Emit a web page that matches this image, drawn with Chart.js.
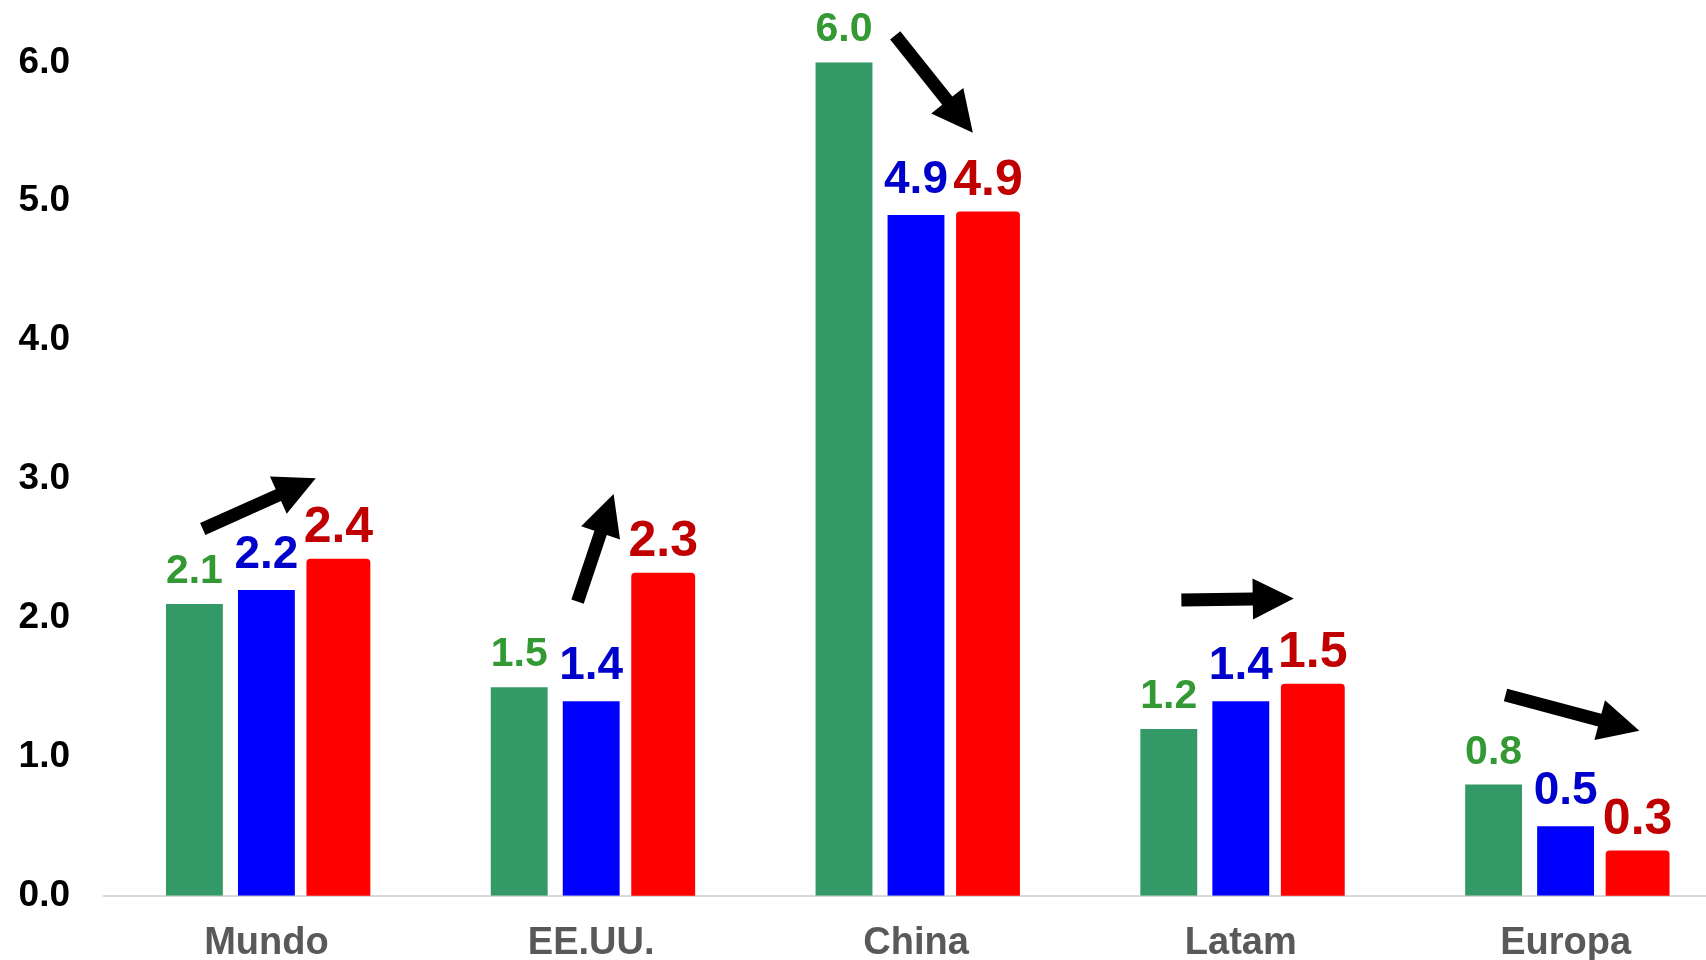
<!DOCTYPE html>
<html>
<head>
<meta charset="utf-8">
<script src="https://cdn.jsdelivr.net/npm/chart.js@4.4.1/dist/chart.umd.min.js"></script>
<style>
html,body{margin:0;padding:0;background:#fff;overflow:hidden;width:1706px;height:960px}
#wrap{position:absolute;left:0;top:0;width:1728px;height:960px}
</style>
</head>
<body>
<div id="wrap"><canvas id="c" width="1728" height="960"></canvas></div>
<script>
// ---- data ----
const categories = ['Mundo', 'EE.UU.', 'China', 'Latam', 'Europa'];
const seriesNames = ['Serie 1', 'Serie 2', 'Serie 3'];
const greenValues = [2.1, 1.5, 6.0, 1.2, 0.8];
const blueValues  = [2.2, 1.4, 4.9, 1.4, 0.5];
const redValues   = [2.4, 2.3, 4.9, 1.5, 0.3];
const yTickValues = [0, 1, 2, 3, 4, 5, 6];

// trend arrows, in category units (0 = Mundo) and value units
const arrowTailX = [-0.196, 0.958, 1.936, 2.817, 3.815];
const arrowTailY = [2.640, 2.117, 6.194, 2.129, 1.445];
const arrowTipX  = [0.152, 1.069, 2.175, 3.163, 4.227];
const arrowTipY  = [3.005, 2.892, 5.493, 2.140, 1.188];

// ---- styling ----
const FONT = '"Liberation Sans", Arial, Helvetica, sans-serif';
const barColors   = ['#339966', '#0000FF', '#FF0000'];
const labelColors = ['#339933', '#0000CC', '#C00000'];
const labelSizes  = [41, 46, 50];
const labelGaps   = [21, 22, 20];

const overlay = {
  id: 'overlay',
  afterDatasetsDraw(chart) {
    const ctx = chart.ctx;
    const xs = chart.scales.x, ys = chart.scales.y;
    ctx.save();
    // value labels
    ctx.textAlign = 'center';
    ctx.textBaseline = 'alphabetic';
    chart.data.datasets.forEach((ds, i) => {
      const meta = chart.getDatasetMeta(i);
      ctx.font = 'bold ' + labelSizes[i] + 'px ' + FONT;
      ctx.fillStyle = labelColors[i];
      meta.data.forEach((bar, j) => {
        ctx.fillText(ds.data[j].toFixed(1), bar.x, bar.y - labelGaps[i]);
      });
    });
    // arrows
    ctx.fillStyle = '#000';
    const shaftW = 13, headW = 41, headL = 41;
    for (let k = 0; k < arrowTailX.length; k++) {
      const tx = xs.getPixelForValue(arrowTailX[k]), ty = ys.getPixelForValue(arrowTailY[k]);
      const px = xs.getPixelForValue(arrowTipX[k]),  py = ys.getPixelForValue(arrowTipY[k]);
      const len = Math.hypot(px - tx, py - ty);
      const dx = (px - tx) / len, dy = (py - ty) / len;
      const nx = -dy, ny = dx;
      const bx = px - dx * headL, by = py - dy * headL;
      ctx.beginPath();
      ctx.moveTo(tx + nx * shaftW / 2, ty + ny * shaftW / 2);
      ctx.lineTo(bx + nx * shaftW / 2, by + ny * shaftW / 2);
      ctx.lineTo(bx + nx * headW / 2, by + ny * headW / 2);
      ctx.lineTo(px, py);
      ctx.lineTo(bx - nx * headW / 2, by - ny * headW / 2);
      ctx.lineTo(bx - nx * shaftW / 2, by - ny * shaftW / 2);
      ctx.lineTo(tx - nx * shaftW / 2, ty - ny * shaftW / 2);
      ctx.closePath();
      ctx.fill();
    }
    ctx.restore();
  }
};

new Chart(document.getElementById('c'), {
  type: 'bar',
  data: {
    labels: categories,
    datasets: [
      { label: seriesNames[0], data: greenValues, backgroundColor: barColors[0], inflateAmount: 0 },
      { label: seriesNames[1], data: blueValues,  backgroundColor: barColors[1], inflateAmount: 0 },
      { label: seriesNames[2], data: redValues,   backgroundColor: barColors[2], inflateAmount: 3.5,
        borderRadius: { topLeft: 4, topRight: 4, bottomLeft: 0, bottomRight: 0 }, borderSkipped: false }
    ]
  },
  options: {
    responsive: false,
    animation: false,
    categoryPercentage: 0.665,
    barPercentage: 0.79,
    layout: { padding: { top: 62.3, right: 0, left: 0, bottom: 0 } },
    plugins: { legend: { display: false }, tooltip: { enabled: false } },
    scales: {
      x: {
        z: 1,
        grid: { display: false, drawTicks: false },
        border: { display: true, color: '#d9d9d9', width: 2 },
        ticks: { font: { family: FONT, size: 38, weight: 'bold' }, color: '#595959', padding: 25 },
        afterFit(s) { s.height = 64.3; }
      },
      y: {
        min: 0, max: 6,
        grid: { display: false, drawTicks: false },
        border: { display: false },
        afterBuildTicks(s) { s.ticks = yTickValues.map(v => ({ value: v })); },
        ticks: { callback: v => Number(v).toFixed(1), font: { family: FONT, size: 37, weight: 'bold' }, color: '#000', padding: 34 },
        afterFit(s) { s.width = 104; }
      }
    }
  },
  plugins: [overlay]
});
</script>
</body>
</html>
